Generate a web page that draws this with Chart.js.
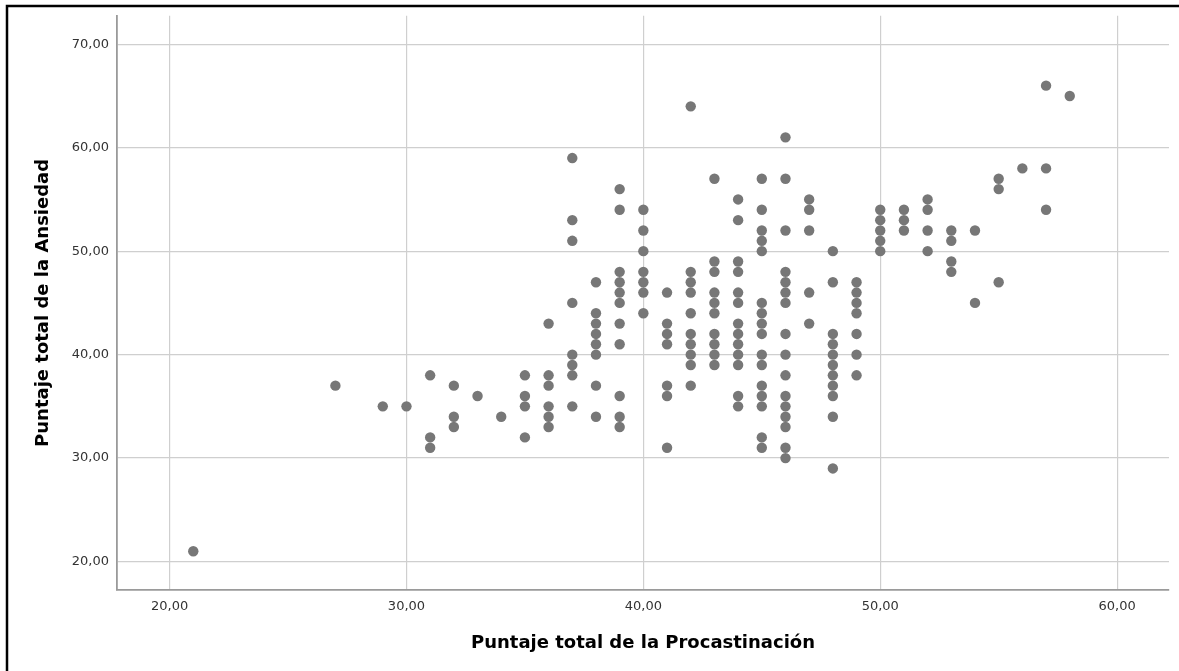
<!DOCTYPE html>
<html>
<head>
<meta charset="utf-8">
<script src="https://cdn.jsdelivr.net/npm/chart.js@4"></script>
<style>
  body { margin: 0; background: #fff; }
  #wrap { width: 1179px; height: 671px; }
</style>
</head>
<body>
<div id="wrap"><canvas id="scatter" width="1179" height="671"></canvas></div>
<script>
// Puntaje de procastinación (x) y, para cada uno, los puntajes de ansiedad (y)
const procastinacion = [21, 27, 29, 30, 31, 32, 33, 34, 35, 36, 37, 38, 39, 40, 41, 42, 43, 44, 45, 46, 47, 48, 49, 50, 51, 52, 53, 54, 55, 56, 57, 58];
const ansiedad = [
  [21],
  [37],
  [35],
  [35],
  [38, 32, 31],
  [37, 34, 33],
  [36],
  [34],
  [38, 36, 35, 32],
  [43, 38, 37, 35, 34, 33],
  [59, 53, 51, 45, 40, 39, 38, 35],
  [47, 44, 43, 42, 41, 40, 37, 34],
  [56, 54, 48, 47, 46, 45, 43, 41, 36, 34, 33],
  [54, 52, 50, 48, 47, 46, 44],
  [46, 43, 42, 41, 37, 36, 31],
  [64, 48, 47, 46, 44, 42, 41, 40, 39, 37],
  [57, 49, 48, 46, 45, 44, 42, 41, 40, 39],
  [55, 53, 49, 48, 46, 45, 43, 42, 41, 40, 39, 36, 35],
  [57, 54, 52, 51, 50, 45, 44, 43, 42, 40, 39, 37, 36, 35, 32, 31],
  [61, 57, 52, 48, 47, 46, 45, 42, 40, 38, 36, 35, 34, 33, 31, 30],
  [55, 54, 52, 46, 43],
  [50, 47, 42, 41, 40, 39, 38, 37, 36, 34, 29],
  [47, 46, 45, 44, 42, 40, 38],
  [54, 53, 52, 51, 50],
  [54, 53, 52],
  [55, 54, 52, 50],
  [52, 51, 49, 48],
  [52, 45],
  [57, 56, 47],
  [58],
  [66, 58, 54],
  [65]
];
const xTicks = [20, 30, 40, 50, 60];
const yTicks = [20, 30, 40, 50, 60, 70];

const points = [];
procastinacion.forEach((x, i) => {
  ansiedad[i].forEach(y => points.push({ x: x, y: y }));
});

const fmt = v => Number(v).toFixed(2).replace(".", ",");
const tickFont = { family: "DejaVu Sans", size: 13 };
const titleFont = { family: "DejaVu Sans", size: 18, weight: "bold" };

// marco negro (arriba e izquierda) como en la captura
const framePlugin = {
  id: "frame",
  afterDraw(chart) {
    const c = chart.ctx;
    c.save();
    c.strokeStyle = "#000";
    c.lineWidth = 2.5;
    c.beginPath();
    c.moveTo(7, 671);
    c.lineTo(7, 6);
    c.lineTo(1179, 6);
    c.stroke();
    c.restore();
  }
};

new Chart(document.getElementById("scatter"), {
  type: "scatter",
  data: {
    datasets: [{
      data: points,
      backgroundColor: "#777777",
      borderWidth: 0,
      pointRadius: 5.2,
      pointHoverRadius: 5.2
    }]
  },
  plugins: [framePlugin],
  options: {
    responsive: false,
    animation: false,
    layout: { padding: { left: 8, top: 14, right: 10, bottom: 0 } },
    plugins: { legend: { display: false }, tooltip: { enabled: false } },
    scales: {
      x: {
        type: "linear",
        min: 17.78,
        max: 62.19,
        afterBuildTicks: axis => { axis.ticks = xTicks.map(v => ({ value: v })); },
        afterFit: axis => { axis.height = 81; },
        ticks: {
          padding: 9,
          color: "#333",
          font: tickFont,
          callback: v => fmt(v),
          maxRotation: 0
        },
        grid: { color: "#cfcfcf", lineWidth: 1.2, drawTicks: false },
        border: { color: "#9a9a9a", width: 1.8 },
        title: {
          display: true,
          text: "Puntaje total de la Procastinación",
          color: "#000",
          font: titleFont,
          padding: { top: 0, bottom: 17 }
        }
      },
      y: {
        type: "linear",
        min: 17.25,
        max: 72.75,
        afterBuildTicks: axis => { axis.ticks = yTicks.map(v => ({ value: v })); },
        afterFit: axis => { axis.width = 109; },
        ticks: {
          padding: 8,
          color: "#333",
          font: tickFont,
          callback: v => fmt(v)
        },
        grid: { color: "#cfcfcf", lineWidth: 1.2, drawTicks: false },
        border: { color: "#9a9a9a", width: 1.8 },
        title: {
          display: true,
          text: "Puntaje total de la Ansiedad",
          color: "#000",
          font: titleFont,
          padding: { top: 25, bottom: 0 }
        }
      }
    }
  }
});
</script>
</body>
</html>
